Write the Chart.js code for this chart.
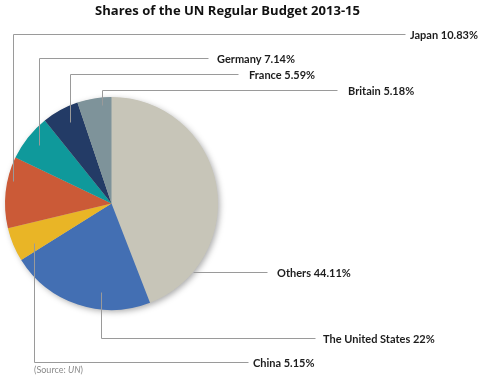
<!DOCTYPE html>
<html>
<head>
<meta charset="utf-8">
<script src="https://cdn.jsdelivr.net/npm/chart.js@4.4.1/dist/chart.umd.min.js"></script>
<style>
  html,body{margin:0;padding:0;background:#fff;}
  #wrap{position:relative;width:500px;height:376px;}
</style>
</head>
<body>
<div id="wrap"><canvas id="pie" width="500" height="376"></canvas></div>
<script>
// data, clockwise from 12 o'clock
const countries = ["Others","The United States","China","Japan","Germany","France","Britain"];
const shares = [44.11, 22, 5.15, 10.83, 7.14, 5.59, 5.18];
const shareLabels = ["44.11%","22%","5.15%","10.83%","7.14%","5.59%","5.18%"];
const sliceColors = ["#c7c5b8","#436fb3","#e9b526","#cb5a37","#0f999b","#233b66","#7e939a"];
const chartTitle = "Shares of the UN Regular Budget 2013-15";

// leader line layout: [startX, startY, elbowX, elbowY, textX]
const leaders = [
  [193, 272, 193, 272, 277],  // Others (straight across)
  [101, 292, 101, 338, 323],  // US
  [34, 243, 34, 362, 253],    // China
  [13, 181, 13, 34, 410],     // Japan
  [39, 145, 39, 58, 217],     // Germany
  [70, 122, 70, 74, 249],     // France
  [102, 105, 102, 90, 348]    // Britain
];
const lineEnds = [267, 315, 248, 405, 208, 238, 337];

const shadowPlugin = {
  id: "pieShadow",
  beforeDatasetsDraw(chart){
    const arc = chart.getDatasetMeta(0).data[0];
    if(!arc) return;
    const ctx = chart.ctx;
    ctx.save();
    ctx.shadowColor = "rgba(0,0,0,0.35)";
    ctx.shadowBlur = 6;
    ctx.shadowOffsetX = 2;
    ctx.shadowOffsetY = 2;
    ctx.fillStyle = "#c7c5b8";
    ctx.beginPath();
    ctx.arc(arc.x, arc.y, arc.outerRadius - 0.5, 0, Math.PI*2);
    ctx.fill();
    ctx.restore();
  }
};

const labelPlugin = {
  id: "leaderLabels",
  afterDatasetsDraw(chart){
    const ctx = chart.ctx;
    ctx.save();
    // title, fitted to the width it has in the picture
    ctx.fillStyle = "#111";
    ctx.font = "bold 13px 'Open Sans'";
    ctx.textBaseline = "middle";
    ctx.textAlign = "left";
    const tw = ctx.measureText(chartTitle).width;
    ctx.save();
    ctx.translate(95, 11);
    ctx.scale(265/tw, 1);
    ctx.fillText(chartTitle, 0, 0);
    ctx.restore();

    ctx.strokeStyle = "#9a9a9a";
    ctx.lineWidth = 1;
    leaders.forEach((l,i)=>{
      const [sx,sy,ex,ey,tx] = l;
      ctx.beginPath();
      ctx.moveTo(sx+0.5, sy+0.5);
      ctx.lineTo(ex+0.5, ey+0.5);
      ctx.lineTo(lineEnds[i]+0.5, ey+0.5);
      ctx.stroke();
      ctx.fillStyle = "#1d1d1d";
      ctx.font = "bold 11px Lato";
      ctx.textBaseline = "middle";
      ctx.textAlign = "left";
      ctx.fillText(countries[i] + " " + shareLabels[i], tx, ey+1);
    });
    // source note
    ctx.fillStyle = "#8a8a8a";
    ctx.font = "9px Lato";
    ctx.textBaseline = "middle";
    let x = 34;
    ctx.fillText("(Source: ", x, 370);
    x += ctx.measureText("(Source: ").width;
    ctx.font = "italic 9px Lato";
    ctx.fillText("UN", x, 370);
    x += ctx.measureText("UN").width;
    ctx.font = "9px Lato";
    ctx.fillText(")", x, 370);
    ctx.restore();
  }
};

new Chart(document.getElementById("pie"), {
  type: "pie",
  data: {
    labels: countries,
    datasets: [{ data: shares, backgroundColor: sliceColors, borderWidth: 0 }]
  },
  options: {
    responsive: false,
    animation: false,
    layout: { padding: { left: 5, top: 97, right: 282, bottom: 66 } },
    plugins: {
      legend: { display: false },
      tooltip: { enabled: false },
      title: { display: false }
    }
  },
  plugins: [shadowPlugin, labelPlugin]
});
</script>
</body>
</html>
